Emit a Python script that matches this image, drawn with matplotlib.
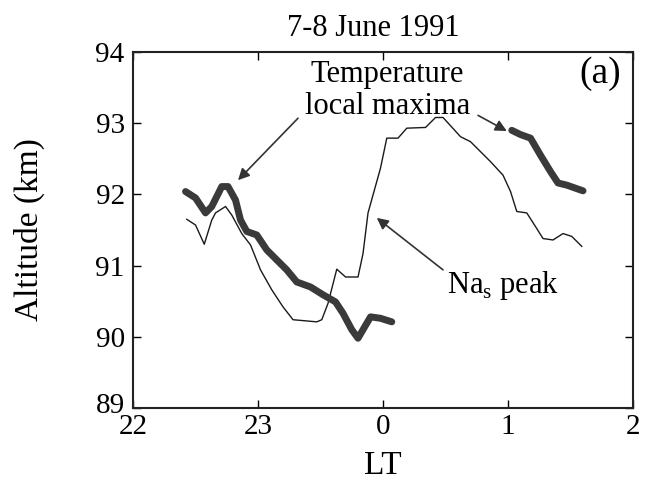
import numpy as np
import matplotlib
matplotlib.use('Agg')
import matplotlib.pyplot as plt
import matplotlib.transforms as mtransforms

plt.rcParams['font.family'] = ['Liberation Serif', 'DejaVu Serif']
plt.rcParams['mathtext.fontset'] = 'custom'
plt.rcParams['mathtext.rm'] = 'Liberation Serif'

# local time in hours, times after midnight written as 24+
na_peak_t = [22.43, 22.50, 22.57, 22.63, 22.66, 22.74, 22.79, 22.87, 22.94, 23.02,
             23.11, 23.20, 23.28, 23.47, 23.51, 23.56, 23.63, 23.70, 23.80, 23.84,
             23.88, 23.98, 24.03, 24.12, 24.19, 24.34, 24.42, 24.48, 24.62, 24.70,
             24.78, 24.86, 24.96, 25.02, 25.07, 25.15, 25.23, 25.28, 25.36, 25.44,
             25.51, 25.59]
na_peak_alt = [91.65, 91.57, 91.30, 91.64, 91.74, 91.83, 91.71, 91.45, 91.29, 90.94,
               90.66, 90.42, 90.24, 90.21, 90.24, 90.47, 90.95, 90.84, 90.84, 91.17,
               91.74, 92.37, 92.79, 92.79, 92.93, 92.94, 93.08, 93.08, 92.81, 92.74,
               92.60, 92.46, 92.27, 92.04, 91.76, 91.74, 91.52, 91.38, 91.36, 91.45,
               91.41, 91.27]

temp_max1_t = [22.42, 22.50, 22.58, 22.63, 22.71, 22.76, 22.82, 22.86, 22.91, 22.99,
               23.07, 23.15, 23.23, 23.31, 23.42, 23.52, 23.62, 23.68, 23.75, 23.80,
               23.84, 23.90, 23.98, 24.07]
temp_max1_alt = [92.04, 91.95, 91.74, 91.83, 92.11, 92.11, 91.92, 91.64, 91.48, 91.43,
                 91.22, 91.08, 90.94, 90.77, 90.70, 90.59, 90.49, 90.33, 90.10, 89.98,
                 90.10, 90.28, 90.26, 90.21]

temp_max2_t = [25.03, 25.10, 25.18, 25.26, 25.34, 25.40, 25.47, 25.60]
temp_max2_alt = [92.90, 92.84, 92.79, 92.55, 92.32, 92.16, 92.13, 92.05]

xticks = [22, 23, 24, 25, 26]
xticklabels = ['22', '23', '0', '1', '2']
yticks = [89, 90, 91, 92, 93, 94]

fig = plt.figure(figsize=(6.47, 4.84), dpi=100)
ax = fig.add_axes([0.2056, 0.157, 0.7728, 0.7356])

ax.plot(na_peak_t, na_peak_alt, color='#1a1a1a', lw=1.0)
ax.plot(temp_max1_t, temp_max1_alt, color='#3a3a3a', lw=5, solid_capstyle='round',
        solid_joinstyle='round')
ax.plot(temp_max2_t, temp_max2_alt, color='#3a3a3a', lw=5, solid_capstyle='round',
        solid_joinstyle='round')

ax.set_xlim(22, 26)
ax.set_ylim(89, 94)
ax.set_xticks(xticks)
ax.set_xticklabels(xticklabels)
ax.set_yticks(yticks)
ax.tick_params(direction='in', top=True, right=True, length=6, width=1,
               labelsize=21)
ax.tick_params(axis='y', pad=6)
ax.tick_params(axis='x', pad=4)
for s in ax.spines.values():
    s.set_linewidth(1.5)
    s.set_color('#222222')

# lift the bottom y label a little so it clears "22"
lab89 = ax.get_yticklabels()[0]
lab89.set_transform(lab89.get_transform() +
                    mtransforms.ScaledTranslation(0, 5 / 100, fig.dpi_scale_trans))

ax.set_xlabel('LT', fontsize=24, labelpad=8)
ax.set_ylabel('Altitude (km)', fontsize=24, labelpad=36)
fig.text(373 / 647, 1 - 28 / 484, '7-8 June 1991', fontsize=22,
         ha='center', va='center')

arrow = dict(arrowstyle='-|>', color='#333333', lw=1.2, mutation_scale=17,
             shrinkA=0, shrinkB=0)
ax.text(24.03, 93.68, 'Temperature', ha='center', va='center', fontsize=22)
ax.text(24.04, 93.23, 'local maxima', ha='center', va='center', fontsize=22)
ax.annotate('', xy=(22.84, 92.20), xytext=(23.32, 93.07), arrowprops=arrow)
ax.annotate('', xy=(24.99, 92.89), xytext=(24.76, 93.11), arrowprops=arrow)
ax.annotate('', xy=(23.95, 91.67), xytext=(24.48, 90.94), arrowprops=arrow)
ax.text(24.51, 90.72, r'Na$_{\mathrm{s}}$ peak', ha='left', va='center', fontsize=22)
ax.text(25.74, 93.70, '(a)', ha='center', va='center', fontsize=27)

fig.savefig('out.png', dpi=100)
